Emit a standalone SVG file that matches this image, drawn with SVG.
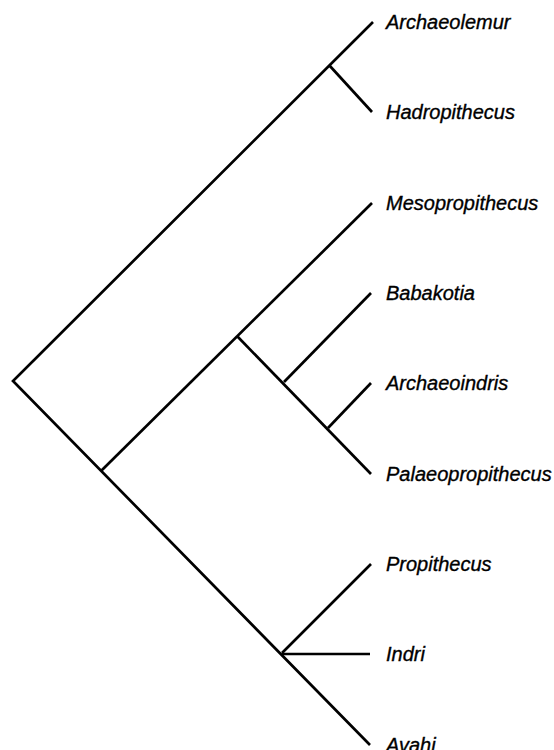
<svg xmlns="http://www.w3.org/2000/svg" width="554" height="750" viewBox="0 0 554 750">
<style>
.e{fill:none;stroke:#000;stroke-width:2.7;stroke-linecap:butt;stroke-linejoin:miter}
.t{font-family:"Liberation Sans",Arial,sans-serif;font-style:italic;font-size:20px;fill:#000;stroke:#000;stroke-width:0.35}
</style>
<rect width="554" height="750" fill="#fff"/>
<g id="connectors">
<polyline class="e" points="373,22 13,381 370,745"/>
<line class="e" x1="329" y1="65" x2="372" y2="112"/>
<line class="e" x1="101" y1="471" x2="372" y2="203"/>
<line class="e" x1="237" y1="336" x2="371" y2="474"/>
<line class="e" x1="284" y1="382" x2="371" y2="293"/>
<line class="e" x1="328" y1="428" x2="371" y2="383"/>
<line class="e" x1="282" y1="653" x2="371" y2="564"/>
<line class="e" x1="282" y1="654" x2="370" y2="654"/>
</g>
<g id="leaf-archaeolemur"><text class="t" x="386" y="29">Archaeolemur</text></g>
<g id="leaf-hadropithecus"><text class="t" x="386" y="119">Hadropithecus</text></g>
<g id="leaf-mesopropithecus"><text class="t" x="386" y="210">Mesopropithecus</text></g>
<g id="leaf-babakotia"><text class="t" x="386" y="300">Babakotia</text></g>
<g id="leaf-archaeoindris"><text class="t" x="386" y="390">Archaeoindris</text></g>
<g id="leaf-palaeopropithecus"><text class="t" x="386" y="481">Palaeopropithecus</text></g>
<g id="leaf-propithecus"><text class="t" x="386" y="571">Propithecus</text></g>
<g id="leaf-indri"><text class="t" x="386" y="661">Indri</text></g>
<g id="leaf-avahi"><text class="t" x="386" y="752">Avahi</text></g>
</svg>
